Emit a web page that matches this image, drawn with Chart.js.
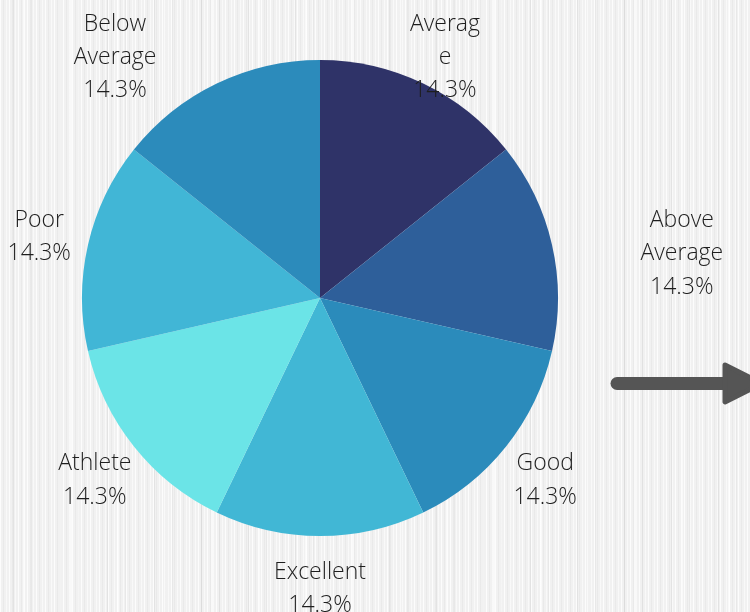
<!DOCTYPE html>
<html>
<head>
<meta charset="utf-8">
<script src="https://cdn.jsdelivr.net/npm/chart.js@4.4.1/dist/chart.umd.min.js"></script>
<style>
  html, body { margin: 0; padding: 0; }
  body {
    width: 750px; height: 612px; overflow: hidden; position: relative;
    background-color: #f1f1f1;
    background-image:
      repeating-linear-gradient(90deg, rgba(255,255,255,0.8) 0 1px, transparent 1px 3px, rgba(0,0,0,0.03) 3px 4px, transparent 4px 6px, rgba(255,255,255,0.55) 6px 7px, transparent 7px 9px),
      repeating-linear-gradient(90deg, transparent 0 13px, rgba(0,0,0,0.06) 13px 14px, transparent 14px 23px, rgba(255,255,255,0.6) 23px 25px, transparent 25px 31px, rgba(0,0,0,0.04) 31px 32px, transparent 32px 47px);
  }
  #wrap { position: absolute; left: 0; top: 0; width: 750px; height: 612px; }
  svg { position: absolute; left: 0; top: 0; }
</style>
</head>
<body>
<svg width="750" height="612">
  <line x1="617" y1="383.5" x2="728" y2="383.5" stroke="#555555" stroke-width="13" stroke-linecap="round"/>
  <polygon points="725,365 762,383.5 725,402" fill="#555555" stroke="#555555" stroke-width="5" stroke-linejoin="round"/>
</svg>
<div id="wrap"><canvas id="c" width="750" height="612"></canvas></div>
<script>
const categories = ["Average", "Above Average", "Good", "Excellent", "Athlete", "Poor", "Below Average"];
const values = [1, 1, 1, 1, 1, 1, 1];
const labelLines = [["Averag", "e"], ["Above", "Average"], ["Good"], ["Excellent"], ["Athlete"], ["Poor"], ["Below", "Average"]];
const colors = ["#2f3368", "#2e5f9a", "#2b8bbb", "#41b7d5", "#6be4e7", "#41b6d6", "#2c8bbb"];

// label layout: distance beyond the pie edge, plus nudges for crowded labels
const labelGap = 50;
const labelNudge = [[0, 16], [81, 17], [0, 0], [0, 0], [0, 0], [0, 0], [-80, 16]];

const outerLabels = {
  id: 'outerLabels',
  afterDraw(chart) {
    const ctx = chart.ctx;
    const meta = chart.getDatasetMeta(0);
    const total = values.reduce((a, b) => a + b, 0);
    ctx.save();
    ctx.font = '300 23px "Open Sans"';
    ctx.fillStyle = '#1e1e1e';
    ctx.textAlign = 'center';
    ctx.textBaseline = 'middle';
    const lh = 33.3;
    meta.data.forEach((arc, i) => {
      const p = arc.getProps(['x', 'y', 'startAngle', 'endAngle', 'outerRadius'], true);
      const mid = (p.startAngle + p.endAngle) / 2;
      const d = p.outerRadius + labelGap;
      const cx = p.x + Math.cos(mid) * d + labelNudge[i][0];
      const cy = p.y + Math.sin(mid) * d + labelNudge[i][1];
      const lines = labelLines[i].concat([(values[i] / total * 100).toFixed(1) + '%']);
      const top = cy - (lines.length - 1) * lh / 2;
      lines.forEach((t, k) => ctx.fillText(t, cx, top + k * lh + 3));
    });
    ctx.restore();
  }
};

new Chart(document.getElementById('c'), {
  type: 'pie',
  data: {
    labels: categories,
    datasets: [{ data: values, backgroundColor: colors, borderWidth: 0 }]
  },
  options: {
    responsive: false,
    animation: false,
    layout: { padding: { left: 82, right: 192, top: 60, bottom: 76 } },
    plugins: { legend: { display: false }, tooltip: { enabled: false } }
  },
  plugins: [outerLabels]
});
</script>
</body>
</html>
